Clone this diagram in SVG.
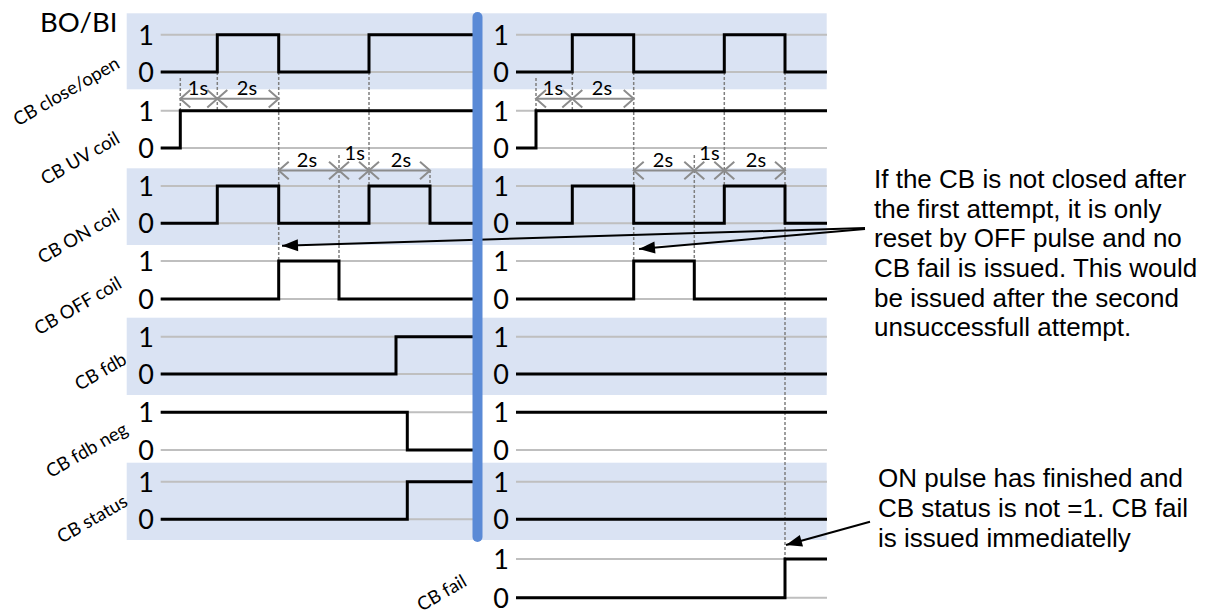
<svg xmlns="http://www.w3.org/2000/svg" width="1219" height="615" viewBox="0 0 1219 615">
<style>
.band{fill:#DAE3F3}
.grid{stroke:#BFBFBF;stroke-width:2;fill:none}
.sig{stroke:#000;stroke-width:3;fill:none;stroke-linejoin:miter}
.dot{stroke:#7F7F7F;stroke-width:1.5;stroke-dasharray:3 2;fill:none}
.dim{stroke:#8C8C8C;stroke-width:2;fill:none;marker-start:url(#chev);marker-end:url(#chev)}
.num{font-family:Lato,"Liberation Sans",sans-serif;font-size:27px;fill:#000;text-anchor:middle}
.dl{font-family:Lato,"Liberation Sans",sans-serif;font-size:20px;fill:#000;text-anchor:middle}
.lbl{font-family:Lato,"Liberation Sans",sans-serif;font-size:18.5px;fill:#000;text-anchor:end}
.note{font-family:"Liberation Sans",Arial,sans-serif;font-size:26px;fill:#000}
.ann{stroke:#000;stroke-width:2;fill:none;marker-end:url(#tri)}
</style>
<defs>
<marker id="chev" markerUnits="userSpaceOnUse" viewBox="-12 -11 14 22" refX="0" refY="0" markerWidth="14" markerHeight="22" orient="auto-start-reverse">
<path d="M-10,-8.7 L0,0 L-10,8.7" stroke="#8C8C8C" stroke-width="2" fill="none"/>
</marker>
<marker id="tri" markerUnits="userSpaceOnUse" viewBox="-17 -7 18 14" refX="0" refY="0" markerWidth="18" markerHeight="14" orient="auto">
<path d="M-16,-6 L0,0 L-16,6 z" fill="#000"/>
</marker>
</defs>
<rect width="1219" height="615" fill="#fff"/>
<g id="bands">
<rect class="band" x="126.7" y="13.3" width="700" height="76"/>
<rect class="band" x="126.7" y="168.3" width="700" height="76.7"/>
<rect class="band" x="126.7" y="317.7" width="700" height="77.3"/>
<rect class="band" x="126.7" y="462.7" width="700" height="77.3"/>
</g>
<g id="grid">
<path class="grid" d="M160.7,34.7H473M160.7,72H473M160.7,110.7H473M160.7,148H473M160.7,186H473M160.7,223.3H473M160.7,261H473M160.7,299H473M160.7,336.7H473M160.7,374H473M160.7,412.3H473M160.7,450H473M160.7,481.7H473M160.7,519.3H473"/>
<path class="grid" d="M516,34.7H827M516,72H827M516,110.7H827M516,148H827M516,186H827M516,223.3H827M516,261H827M516,299H827M516,336.7H827M516,374H827M516,412.3H827M516,450H827M516,481.7H827M516,519.3H827M516,559H827M516,597.7H827"/>
</g>
<g id="dotted">
<path class="dot" d="M180.3,78V110.7M217.3,72V110M278.7,72V261M339,155V261M369,72V186M430,170V186"/>
<path class="dot" d="M536,78V110.7M572.3,72V110M633.7,72V261M694.3,155V261M724.3,72V186M785,72V559"/>
</g>
<g id="row-close-open">
<path class="sig" d="M160.7,72H217.3V34.7H278.7V72H369V34.7H473"/>
<path class="sig" d="M516,72H572.3V34.7H633.7V72H724.3V34.7H785V72H827"/>
</g>
<g id="row-uv-coil">
<path class="sig" d="M160.7,148H180.3V110.7H473"/>
<path class="sig" d="M516,148H536V110.7H827"/>
</g>
<g id="row-on-coil">
<path class="sig" d="M160.7,223.3H217.3V186H278.7V223.3H369V186H430V223.3H473"/>
<path class="sig" d="M516,223.3H572.3V186H633.7V223.3H724.3V186H785V223.3H827"/>
</g>
<g id="row-off-coil">
<path class="sig" d="M160.7,299H278.7V261H339V299H473"/>
<path class="sig" d="M516,299H633.7V261H694.3V299H827"/>
</g>
<g id="row-fdb">
<path class="sig" d="M160.7,374H396V336.7H473"/>
<path class="sig" d="M516,374H827"/>
</g>
<g id="row-fdb-neg">
<path class="sig" d="M160.7,412.3H407.3V450H473"/>
<path class="sig" d="M516,412.3H827"/>
</g>
<g id="row-status">
<path class="sig" d="M160.7,519.3H407.3V481.7H473"/>
<path class="sig" d="M516,519.3H827"/>
</g>
<g id="row-fail">
<path class="sig" d="M516,597.7H785V559H827"/>
</g>
<g id="levels">
<text class="num" x="146" y="44.7">1</text><text class="num" x="146" y="82">0</text>
<text class="num" x="146" y="120.7">1</text><text class="num" x="146" y="158">0</text>
<text class="num" x="146" y="196">1</text><text class="num" x="146" y="233.3">0</text>
<text class="num" x="146" y="271">1</text><text class="num" x="146" y="309">0</text>
<text class="num" x="146" y="346.7">1</text><text class="num" x="146" y="384">0</text>
<text class="num" x="146" y="422.3">1</text><text class="num" x="146" y="460">0</text>
<text class="num" x="146" y="491.7">1</text><text class="num" x="146" y="529.3">0</text>
<text class="num" x="501" y="44.7">1</text><text class="num" x="501" y="82">0</text>
<text class="num" x="501" y="120.7">1</text><text class="num" x="501" y="158">0</text>
<text class="num" x="501" y="196">1</text><text class="num" x="501" y="233.3">0</text>
<text class="num" x="501" y="271">1</text><text class="num" x="501" y="309">0</text>
<text class="num" x="501" y="346.7">1</text><text class="num" x="501" y="384">0</text>
<text class="num" x="501" y="422.3">1</text><text class="num" x="501" y="460">0</text>
<text class="num" x="501" y="491.7">1</text><text class="num" x="501" y="529.3">0</text>
<text class="num" x="501" y="569">1</text><text class="num" x="501" y="607.7">0</text>
</g>
<g id="connectors">
<path class="dim" d="M180.3,98.7H217.3"/>
<path class="dim" d="M217.3,98.7H278.7"/>
<path class="dim" d="M278.7,170.5H339"/>
<path class="dim" d="M339,170.5H369"/>
<path class="dim" d="M369,170.5H430"/>
<path class="dim" d="M536,98.7H572.3"/>
<path class="dim" d="M572.3,98.7H633.7"/>
<path class="dim" d="M633.7,170.5H694.3"/>
<path class="dim" d="M694.3,170.5H724.3"/>
<path class="dim" d="M724.3,170.5H785"/>
<path class="ann" d="M865,228L282,245.7"/>
<path class="ann" d="M865,229L639,249"/>
<path class="ann" d="M870,521.7L786,545"/>
</g>
<g id="dim-labels">
<text class="dl" x="198" y="95">1s</text>
<text class="dl" x="247" y="95">2s</text>
<text class="dl" x="307" y="166.7">2s</text>
<text class="dl" x="354.7" y="160">1s</text>
<text class="dl" x="401" y="166.7">2s</text>
<text class="dl" x="553" y="95">1s</text>
<text class="dl" x="602" y="95">2s</text>
<text class="dl" x="663" y="166.7">2s</text>
<text class="dl" x="709.5" y="160">1s</text>
<text class="dl" x="756" y="166.7">2s</text>
</g>
<g id="separator">
<line x1="477.5" y1="17" x2="477.5" y2="537" stroke="#5A8AD6" stroke-width="10" stroke-linecap="round"/>
</g>
<g id="signal-labels">
<text x="40" y="31.7" font-family="Lato,'Liberation Sans',sans-serif" font-size="27.5" fill="#000">BO/BI</text>
<text class="lbl" transform="translate(121,67) rotate(-30)">CB close/open</text>
<text class="lbl" transform="translate(121,142) rotate(-30)">CB UV coil</text>
<text class="lbl" transform="translate(121,219) rotate(-30)">CB ON coil</text>
<text class="lbl" transform="translate(123,287) rotate(-30)">CB OFF coil</text>
<text class="lbl" transform="translate(128,363) rotate(-30)">CB fdb</text>
<text class="lbl" transform="translate(129,433) rotate(-30)">CB fdb neg</text>
<text class="lbl" transform="translate(129,505) rotate(-30)">CB status</text>
<text class="lbl" transform="translate(468,585) rotate(-30)">CB fail</text>
</g>
<g id="note-1">
<text class="note" x="874" y="188">If the CB is not closed after</text>
<text class="note" x="874" y="217.7">the first attempt, it is only</text>
<text class="note" x="874" y="247.3">reset by OFF pulse and no</text>
<text class="note" x="874" y="277">CB fail is issued. This would</text>
<text class="note" x="874" y="306.7">be issued after the second</text>
<text class="note" x="874" y="336.3">unsuccessfull attempt.</text>
</g>
<g id="note-2">
<text class="note" x="878" y="487">ON pulse has finished and</text>
<text class="note" x="878" y="517">CB status is not =1. CB fail</text>
<text class="note" x="878" y="546.5">is issued immediatelly</text>
</g>
</svg>
